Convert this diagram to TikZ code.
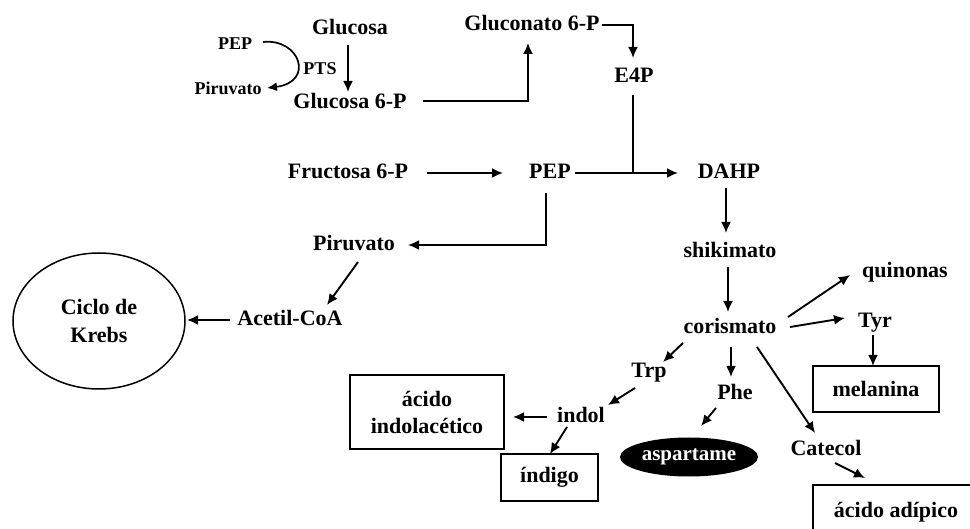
\documentclass[tikz,border=0pt]{standalone}
\usepackage{fontspec}
\setmainfont{Liberation Serif}
\usetikzlibrary{arrows.meta,calc,shapes.geometric}
\begin{document}
\begin{tikzpicture}[x=1pt,y=-1pt,
  lbl/.style={font=\fontsize{22}{27}\selectfont\bfseries, inner sep=0pt, align=center, text height=16pt, text depth=5pt},
  sml/.style={font=\fontsize{18}{21}\selectfont\bfseries, inner sep=0pt, text height=13pt, text depth=4pt},
  boxn/.style={draw, line width=1.8pt, font=\fontsize{22}{27}\selectfont\bfseries, align=center, inner sep=0pt},
  arr/.style={line width=1.9pt, -{Latex[length=11pt,width=10pt]}},
  ln/.style={line width=1.9pt}]
\useasboundingbox (0,0) rectangle (970,529);
\clip (0,0) rectangle (970,529);

% nodes
\node[lbl] (glc) at (350,29) {Glucosa};
\node[sml] (pep1) at (235,45) {PEP};
\node[sml] (pir1) at (228,90) {Piruvato};
\node[sml] (pts) at (320,70) {PTS};
\node[lbl] (g6p) at (350,103) {Glucosa 6-P};
\node[lbl] (glcn) at (532,25) {Gluconato 6-P};
\node[lbl] (e4p) at (634,77) {E4P};
\node[lbl] (f6p) at (348,173) {Fructosa 6-P};
\node[lbl] (pep) at (550,173) {PEP};
\node[lbl] (dahp) at (729,173) {DAHP};
\node[lbl] (shik) at (730,252) {shikimato};
\node[lbl] (pir) at (354,245) {Piruvato};
\node[lbl] (acoa) at (290,320) {Acetil-CoA};
\node[draw, ellipse, line width=1.5pt, minimum width=172pt, minimum height=136pt, inner sep=0pt,
      font=\fontsize{22}{28}\selectfont\bfseries, align=center] (krebs) at (99,321) {Ciclo de\\Krebs};
\node[lbl] (cor) at (730,328) {corismato};
\node[lbl] (quin) at (905,272) {quinonas};
\node[lbl] (tyr) at (875,322) {Tyr};
\node[boxn, minimum width=126pt, minimum height=46pt] (mel) at (876,389) {melanina};
\node[lbl] (trp) at (649,372) {Trp};
\node[lbl] (phe) at (735,394) {Phe};
\node[ellipse, fill=black, text=white, minimum width=138pt, minimum height=39pt, inner sep=0pt,
      font=\fontsize{21}{25}\selectfont\bfseries] (asp) at (689,457) {aspartame};
\node[lbl] (cat) at (826,450) {Catecol};
\node[boxn, minimum width=166pt, minimum height=54pt] (adip) at (896,512) {ácido adípico};
\node[lbl] (indol) at (581,417) {indol};
\node[boxn, minimum width=154pt, minimum height=74pt] (iaa) at (427,412) {ácido\\indolacético};
\node[boxn, minimum width=97pt, minimum height=47pt] (indigo) at (549.5,477.5) {índigo};
\coordinate (jn) at ($(e4p)+(-1,96)$);

% connectors
\draw[arr] ($(glc)+(-2,16)$) -- ($(g6p)+(-2,-11)$);
\draw[line width=1.7pt, -{Latex[length=10pt,width=9pt]}] ($(pep1)+(28,-3)$) .. controls ($(pep1)+(65,-7)$) and ($(pep1)+(80,37)$) .. ($(pir1)+(39,-2)$);
\draw[arr] ($(g6p)+(73,-2)$) -| ($(glcn)+(-4,18)$);
\draw[arr] ($(glcn)+(70,0)$) -| ($(e4p)+(-1,-19)$);
\draw[ln] ($(e4p)+(-1,18)$) -- (jn);
\draw[arr] ($(f6p)+(79,0)$) -- ($(pep)+(-47,0)$);
\draw[arr] ($(pep)+(25,0)$) -- ($(dahp)+(-51,0)$);
\draw[arr] ($(dahp)+(-3,15)$) -- ($(shik)+(-4,-19)$);
\draw[arr] ($(pep)+(-4,20)$) |- ($(pir)+(54,0)$);
\draw[arr] ($(pir)+(4,17)$) -- ($(acoa)+(37,-15)$);
\draw[arr] ($(acoa)+(-60,0)$) -- ($(krebs)+(88,-1)$);
\draw[arr] ($(shik)+(-2,15)$) -- ($(cor)+(-2,-16)$);
\draw[arr] ($(cor)+(58,-11)$) -- ($(quin)+(-55,3)$);
\draw[arr] ($(cor)+(60,-1)$) -- ($(tyr)+(-30,-4)$);
\draw[arr] ($(tyr)+(-2,13)$) -- ($(mel)+(-3,-23)$);
\draw[arr] ($(cor)+(-47,15)$) -- ($(trp)+(14,-10)$);
\draw[arr] ($(cor)+(1,19)$) -- ($(phe)+(-4,-17)$);
\draw[arr] ($(phe)+(-19,14)$) -- ($(asp)+(12,-31)$);
\draw[arr] ($(cor)+(27,19)$) -- ($(cat)+(-11,-17)$);
\draw[arr] ($(cat)+(9,13)$) -- ($(adip)+(-31,-34)$);
\draw[arr] ($(trp)+(-14,16)$) -- ($(indol)+(27,-12)$);
\draw[arr] ($(indol)+(-34,0)$) -- ($(iaa)+(86,5)$);
\draw[arr] ($(indol)+(-14,10)$) -- ($(indigo)+(0.5,-23.5)$);
\end{tikzpicture}
\end{document}
